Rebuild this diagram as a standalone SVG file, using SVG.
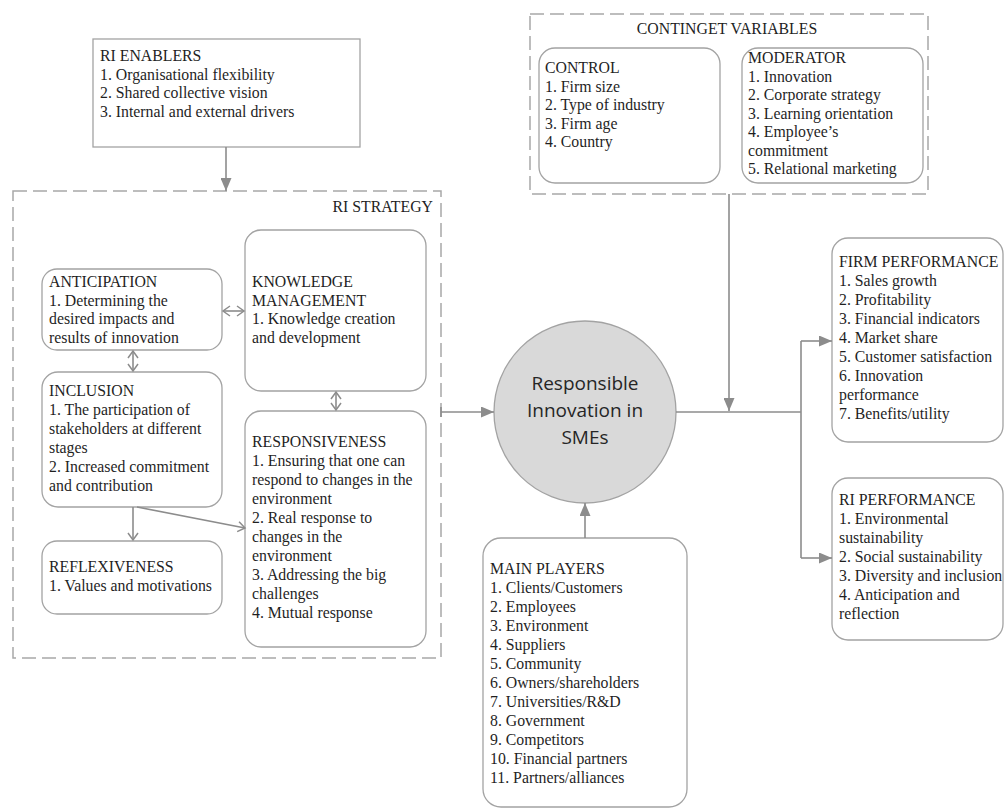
<svg xmlns="http://www.w3.org/2000/svg" width="1005" height="808" viewBox="0 0 1005 808">
<style>
  .t { font-family: "Liberation Serif", "Times New Roman", serif; font-size: 15.8px; fill: #1f1f1f; }
  .c { font-family: "Open Sans", "Liberation Sans", sans-serif; font-size: 19px; fill: #262626; text-anchor: middle; }
  .box { fill: #ffffff; stroke: #a3a3a3; stroke-width: 1.3; }
  .dash { fill: none; stroke: #a8a8a8; stroke-width: 1.5; stroke-dasharray: 14 6; }
  .ln { fill: none; stroke: #8c8c8c; stroke-width: 1.6; }
</style>
<defs>
  <marker id="tri" markerUnits="userSpaceOnUse" markerWidth="13" markerHeight="11" refX="13" refY="5.5" orient="auto">
    <path d="M0,0 L13,5.5 L0,11 Z" fill="#8c8c8c"/>
  </marker>
  <marker id="chev" markerUnits="userSpaceOnUse" markerWidth="10" markerHeight="12" refX="8" refY="6" orient="auto-start-reverse">
    <path d="M1,1 L8,6 L1,11" fill="none" stroke="#8c8c8c" stroke-width="1.5"/>
  </marker>
</defs>
<rect width="1005" height="808" fill="#ffffff"/>

<g id="ri-enablers">
  <rect class="box" x="93" y="39" width="267" height="108"/>
  <text class="t" x="100" y="61">RI ENABLERS</text>
  <text class="t" x="100" y="79.5">1. Organisational flexibility</text>
  <text class="t" x="100" y="98">2. Shared collective vision</text>
  <text class="t" x="100" y="116.5">3. Internal and external drivers</text>
</g>

<g id="ri-strategy">
  <rect class="dash" x="13" y="191" width="428" height="467"/>
  <text class="t" x="433" y="212" text-anchor="end">RI STRATEGY</text>
</g>

<g id="anticipation">
  <rect class="box" x="42" y="269" width="180" height="81" rx="15"/>
  <text class="t" x="49" y="287">ANTICIPATION</text>
  <text class="t" x="49" y="305.5">1. Determining the</text>
  <text class="t" x="49" y="324">desired impacts and</text>
  <text class="t" x="49" y="342.5">results of innovation</text>
</g>

<g id="knowledge-management">
  <rect class="box" x="245" y="230" width="181" height="161" rx="16"/>
  <text class="t" x="252" y="287">KNOWLEDGE</text>
  <text class="t" x="252" y="305.5">MANAGEMENT</text>
  <text class="t" x="252" y="324">1. Knowledge creation</text>
  <text class="t" x="252" y="342.5">and development</text>
</g>

<g id="inclusion">
  <rect class="box" x="42" y="372" width="180" height="135" rx="16"/>
  <text class="t" x="49" y="396">INCLUSION</text>
  <text class="t" x="49" y="415">1. The participation of</text>
  <text class="t" x="49" y="434">stakeholders at different</text>
  <text class="t" x="49" y="453">stages</text>
  <text class="t" x="49" y="472">2. Increased commitment</text>
  <text class="t" x="49" y="491">and contribution</text>
</g>

<g id="reflexiveness">
  <rect class="box" x="42" y="541" width="180" height="73" rx="15"/>
  <text class="t" x="49" y="572">REFLEXIVENESS</text>
  <text class="t" x="49" y="591">1. Values and motivations</text>
</g>

<g id="responsiveness">
  <rect class="box" x="245" y="411" width="181" height="236" rx="16"/>
  <text class="t" x="252" y="447">RESPONSIVENESS</text>
  <text class="t" x="252" y="466">1. Ensuring that one can</text>
  <text class="t" x="252" y="485">respond to changes in the</text>
  <text class="t" x="252" y="504">environment</text>
  <text class="t" x="252" y="523">2. Real response to</text>
  <text class="t" x="252" y="542">changes in the</text>
  <text class="t" x="252" y="561">environment</text>
  <text class="t" x="252" y="580">3. Addressing the big</text>
  <text class="t" x="252" y="599">challenges</text>
  <text class="t" x="252" y="618">4. Mutual response</text>
</g>

<g id="contingent-variables">
  <rect class="dash" x="530" y="14" width="398" height="180"/>
  <text class="t" x="727" y="33.5" text-anchor="middle">CONTINGET VARIABLES</text>
</g>

<g id="control">
  <rect class="box" x="539" y="48" width="181" height="135" rx="16"/>
  <text class="t" x="545" y="73">CONTROL</text>
  <text class="t" x="545" y="91.5">1. Firm size</text>
  <text class="t" x="545" y="110">2. Type of industry</text>
  <text class="t" x="545" y="128.5">3. Firm age</text>
  <text class="t" x="545" y="147">4. Country</text>
</g>

<g id="moderator">
  <rect class="box" x="742" y="48" width="181" height="135" rx="16"/>
  <text class="t" x="748" y="63">MODERATOR</text>
  <text class="t" x="748" y="81.5">1. Innovation</text>
  <text class="t" x="748" y="100">2. Corporate strategy</text>
  <text class="t" x="748" y="118.5">3. Learning orientation</text>
  <text class="t" x="748" y="137">4. Employee’s</text>
  <text class="t" x="748" y="155.5">commitment</text>
  <text class="t" x="748" y="174">5. Relational marketing</text>
</g>

<g id="responsible-innovation">
  <circle cx="585" cy="412" r="91" fill="#d9d9d9" stroke="#a3a3a3" stroke-width="1.3"/>
  <text class="c" x="585" y="390">Responsible</text>
  <text class="c" x="585" y="417">Innovation in</text>
  <text class="c" x="585" y="444">SMEs</text>
</g>

<g id="main-players">
  <rect class="box" x="483" y="538" width="204" height="269" rx="18"/>
  <text class="t" x="490" y="574">MAIN PLAYERS</text>
  <text class="t" x="490" y="593">1. Clients/Customers</text>
  <text class="t" x="490" y="612">2. Employees</text>
  <text class="t" x="490" y="631">3. Environment</text>
  <text class="t" x="490" y="650">4. Suppliers</text>
  <text class="t" x="490" y="669">5. Community</text>
  <text class="t" x="490" y="688">6. Owners/shareholders</text>
  <text class="t" x="490" y="707">7. Universities/R&amp;D</text>
  <text class="t" x="490" y="726">8. Government</text>
  <text class="t" x="490" y="745">9. Competitors</text>
  <text class="t" x="490" y="764">10. Financial partners</text>
  <text class="t" x="490" y="783">11. Partners/alliances</text>
</g>

<g id="firm-performance">
  <rect class="box" x="832" y="238" width="171" height="204" rx="16"/>
  <text class="t" x="839" y="267">FIRM PERFORMANCE</text>
  <text class="t" x="839" y="286">1. Sales growth</text>
  <text class="t" x="839" y="305">2. Profitability</text>
  <text class="t" x="839" y="324">3. Financial indicators</text>
  <text class="t" x="839" y="343">4. Market share</text>
  <text class="t" x="839" y="362">5. Customer satisfaction</text>
  <text class="t" x="839" y="381">6. Innovation</text>
  <text class="t" x="839" y="400">performance</text>
  <text class="t" x="839" y="419">7. Benefits/utility</text>
</g>

<g id="ri-performance">
  <rect class="box" x="832" y="478" width="171" height="162" rx="16"/>
  <text class="t" x="839" y="505">RI PERFORMANCE</text>
  <text class="t" x="839" y="524">1. Environmental</text>
  <text class="t" x="839" y="543">sustainability</text>
  <text class="t" x="839" y="562">2. Social sustainability</text>
  <text class="t" x="839" y="581">3. Diversity and inclusion</text>
  <text class="t" x="839" y="600">4. Anticipation and</text>
  <text class="t" x="839" y="619">reflection</text>
</g>

<g id="connectors">
  <line class="ln" x1="226" y1="147" x2="226" y2="191" marker-end="url(#tri)"/>
  <line class="ln" x1="223" y1="311" x2="244" y2="311" marker-start="url(#chev)" marker-end="url(#chev)"/>
  <line class="ln" x1="133" y1="351" x2="133" y2="371" marker-start="url(#chev)" marker-end="url(#chev)"/>
  <line class="ln" x1="336" y1="392" x2="336" y2="410" marker-start="url(#chev)" marker-end="url(#chev)"/>
  <line class="ln" x1="133" y1="507" x2="133" y2="540" marker-end="url(#chev)"/>
  <line class="ln" x1="137" y1="507" x2="245" y2="528" marker-end="url(#chev)"/>
  <line class="ln" x1="441" y1="407" x2="441" y2="417"/>
  <line class="ln" x1="441" y1="412" x2="494" y2="412" marker-end="url(#tri)"/>
  <line class="ln" x1="729" y1="194" x2="729" y2="411" marker-end="url(#tri)"/>
  <line class="ln" x1="585" y1="538" x2="585" y2="503" marker-end="url(#tri)"/>
  <path class="ln" d="M676,412 H801"/>
  <path class="ln" d="M801,341 V558"/>
  <line class="ln" x1="801" y1="341" x2="832" y2="341" marker-end="url(#tri)"/>
  <line class="ln" x1="801" y1="558" x2="832" y2="558" marker-end="url(#tri)"/>
</g>
</svg>
